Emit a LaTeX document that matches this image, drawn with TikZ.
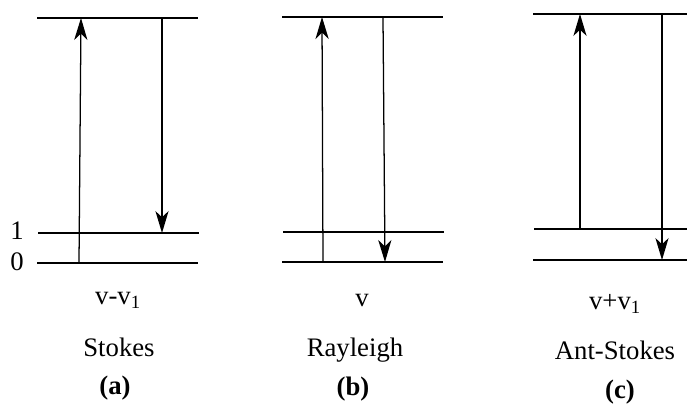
\documentclass[tikz,border=0pt]{standalone}
\usepackage{fontspec}
\setmainfont{Liberation Serif}
\usetikzlibrary{arrows.meta}

\begin{document}
\begin{tikzpicture}[
        x=0.025cm,
        y=-0.025cm,
        every node/.style={font=\fontsize{19}{22}\selectfont, inner sep=0pt},
        level/.style={
            line width=1.8pt
        },
        jump/.style={
            line width=0.9pt,
            -{Stealth[length=5.5mm, width=3.3mm, inset=1.6mm]}
        },
        caption/.style={anchor=base},
        tag/.style={anchor=base, font=\fontsize{19}{22}\selectfont\bfseries}
    ]
    \useasboundingbox (0,0) rectangle (687,405);

    % Stokes
    \draw[level] (37,18) -- (198,18);
    \draw[level] (38,233) -- (199,233);
    \draw[level] (37,263) -- (198,263);
    \node (one) at (17,231) {1};
    \node (zero) at (17,262) {0};
    \coordinate (a0) at (79,263);
    \coordinate (a2) at (81,18);
    \coordinate (a3) at (162,18);
    \coordinate (a1) at (162,233);
    \draw[jump] (a0) -- (a2);
    \draw[jump] (a3) -- (a1);
    \node[caption] (freqa) at (118,305) {v-v\textsubscript{1}};
    \node[caption] (stokes) at (119,357) {Stokes};
    \node[tag] (taga) at (115,395) {(a)};

    % Rayleigh
    \draw[level] (282,17) -- (443,17);
    \draw[level] (283,232) -- (444,232);
    \draw[level] (282,262) -- (443,262);
    \coordinate (b0) at (323,262);
    \coordinate (b2) at (322,17);
    \coordinate (b3) at (383,17);
    \coordinate (b1) at (385,262);
    \draw[jump] (b0) -- (b2);
    \draw[jump] (b3) -- (b1);
    \node[caption] (freqb) at (362,307) {v};
    \node[caption] (rayleigh) at (355,357) {Rayleigh};
    \node[tag] (tagb) at (353,396) {(b)};

    % Ant-Stokes
    \draw[level] (533,14) -- (687,14);
    \draw[level] (534,229) -- (687,229);
    \draw[level] (533,260) -- (687,260);
    \coordinate (c1) at (580,229);
    \coordinate (c2) at (580,14);
    \coordinate (c3) at (662,14);
    \coordinate (c0) at (662,260);
    \draw[jump] (c1) -- (c2);
    \draw[jump] (c3) -- (c0);
    \node[caption] (freqc) at (615,310) {v+v\textsubscript{1}};
    \node[caption] (antstokes) at (615,360) {Ant-Stokes};
    \node[tag] (tagc) at (620,399) {(c)};

\end{tikzpicture}
\end{document}
